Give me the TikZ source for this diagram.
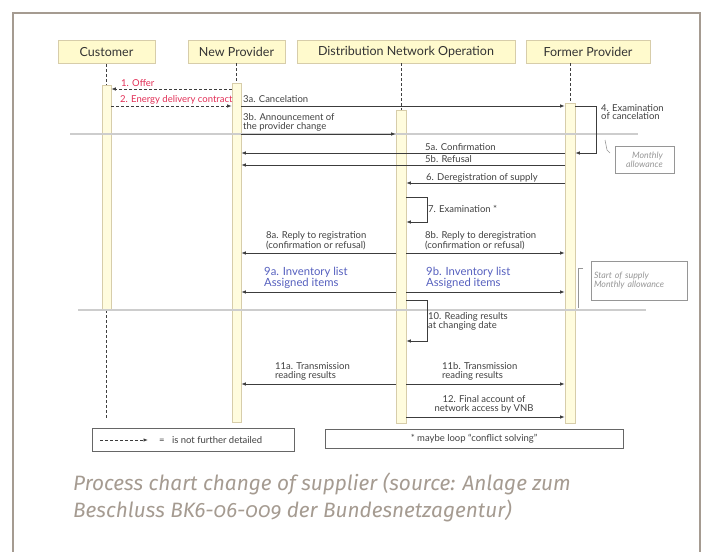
\documentclass[tikz,border=0pt]{standalone}
\usepackage{fontspec}
\setmainfont{Lato}
\newfontfamily\captionFont[Numbers=OldStyle]{Fira Sans}
\usetikzlibrary{arrows.meta}
\definecolor{frameGray}{RGB}{165,155,145}
\definecolor{headFill}{RGB}{255,250,205}
\definecolor{headLine}{RGB}{215,205,170}
\definecolor{barFill}{RGB}{255,252,222}
\definecolor{msgGray}{RGB}{60,60,60}
\definecolor{offerRed}{RGB}{225,45,85}
\definecolor{listBlue}{RGB}{85,95,190}
\definecolor{sepGray}{RGB}{205,205,205}
\definecolor{noteGray}{RGB}{150,150,150}
\newcommand{\msgFont}{\fontsize{9.5}{8.8}\selectfont}
\newcommand{\selfLoop}[3]{%%
  %% Arrow that leaves a bar and comes back to it.
  \draw[msgStyle] (#1.east |- #2) -- ++(21,0) |- (#1.east |- #3);
}
\begin{document}
\begin{tikzpicture}[x=1pt,y=-1pt,%%
  headStyle/.style={draw=headLine,fill=headFill,line width=0.8pt,minimum height=23pt,
    inner sep=0pt,font=\fontsize{12.5}{13}\selectfont,text=black!80},%%
  barStyle/.style={draw=headLine,fill=barFill,line width=0.6pt,minimum width=9pt,inner sep=0pt},%%
  lifeStyle/.style={densely dashed,black!75,line width=0.7pt},%%
  msgStyle/.style={msgGray,line width=0.8pt,-{Latex[length=4.5pt,width=3.5pt]}},%%
  dashStyle/.style={msgStyle,densely dashed},%%
  labelStyle/.style={inner sep=0pt,align=left,font=\msgFont,text=black!75},%%
  listStyle/.style={labelStyle,font=\fontsize{11.3}{10.8}\selectfont,text=listBlue},%%
  noteStyle/.style={draw=noteGray,line width=0.7pt,inner sep=0pt,align=left,
    font=\fontsize{8.8}{8.8}\selectfont\itshape,text=noteGray},%%
  sepStyle/.style={sepGray,line width=1.3pt}
]
\useasboundingbox (0,0) rectangle (706,551);
%%
%% Frame round the figure.
\draw[frameGray,line width=2pt] (13,560) -- (13,13) -- (700,13) -- (700,560);
%%
%% Heads of the four parties.
\node[headStyle,minimum width=97pt] (cust) at (106.5,52) {Customer};
\node[headStyle,minimum width=97pt] (newProv) at (236.5,51.5) {New Provider};
\node[headStyle,minimum width=218pt] (dno) at (406,51.5) {Distribution Network Operation};
\node[headStyle,minimum width=124pt] (formProv) at (588,51.5) {Former Provider};
%%
%% Activation bars.
\node[barStyle,minimum height=225pt] (custBar) at (106.5,197.5) {};
\node[barStyle,minimum height=339pt] (newBar) at (236.5,252.5) {};
\node[barStyle,minimum height=313pt,minimum width=10pt] (dnoBar) at (401,266.5) {};
\node[barStyle,minimum height=320pt,minimum width=10pt] (formBar) at (570,263) {};
%%
%% Life lines.
\draw[lifeStyle] (cust.south -| custBar.north) -- (custBar.north);
\draw[lifeStyle] (newProv.south -| newBar.north) -- (newBar.north);
\draw[lifeStyle] (dno.south -| dnoBar.north) -- (dnoBar.north);
\draw[lifeStyle] (formProv.south -| formBar.north) -- (formBar.north);
\coordinate (custEnd) at (106.5,418);
\draw[lifeStyle] (custBar.south) -- (custEnd);
%%
%% Heights of the messages.
\coordinate (yOffer) at (0,89);
\coordinate (yContract) at (0,106);
\coordinate (yAnnounce) at (0,134);
\coordinate (yConfirm) at (0,153);
\coordinate (yRefusal) at (0,165);
\coordinate (yDereg) at (0,183);
\coordinate (yExamTop) at (0,197);
\coordinate (yExamBot) at (0,222);
\coordinate (yReply) at (0,253);
\coordinate (yList) at (0,292);
\coordinate (yReadTop) at (0,300);
\coordinate (yReadBot) at (0,341);
\coordinate (yTrans) at (0,384);
\coordinate (yFinal) at (0,417);
%%
%% Separator lines.
\coordinate (sepOneL) at (70,134);
\coordinate (sepOneR) at (638,134);
\coordinate (sepTwoL) at (78,310);
\coordinate (sepTwoR) at (646,310);
\draw[sepStyle] (sepOneL) -- (sepOneR);
\draw[sepStyle] (sepTwoL) -- (sepTwoR);
%%
%% 1. and 2.
\draw[dashStyle] (newBar.west |- yOffer) -- (custBar.east |- yOffer);
\node[labelStyle,text=offerRed,anchor=base west] (lOffer) at (121,86) {1. Offer};
\draw[dashStyle] (custBar.east |- yContract) -- (newBar.west |- yContract);
\node[labelStyle,text=offerRed,anchor=base west] (lContract) at (120,102) {2. Energy delivery contract};
%%
%% 3a. and 3b.
\draw[msgStyle] (newBar.east |- yContract) -- (formBar.west |- yContract);
\node[labelStyle,anchor=base west] (lCancel) at (243,102) {3a. Cancelation};
\draw[msgStyle] (newBar.east |- yAnnounce) -- (dnoBar.west |- yAnnounce);
\node[labelStyle,anchor=south west] (lAnnounce) at (243,131.5) {3b. Announcement of\\the provider change};
%%
%% 4.
\selfLoop{formBar}{yContract}{yConfirm}
\node[labelStyle,anchor=north west] (lExamCancel) at (601,104) {4. Examination\\of cancelation};
%%
%% 5a., 5b. and 6.
\draw[msgStyle] (formBar.west |- yConfirm) -- (newBar.east |- yConfirm);
\node[labelStyle,anchor=base west] (lConfirm) at (425,150) {5a. Confirmation};
\draw[msgStyle] (formBar.west |- yRefusal) -- (newBar.east |- yRefusal);
\node[labelStyle,anchor=base west] (lRefusal) at (425,162.5) {5b. Refusal};
\draw[msgStyle] (formBar.west |- yDereg) -- (dnoBar.east |- yDereg);
\node[labelStyle,anchor=base west] (lDereg) at (426,180) {6. Deregistration of supply};
%%
%% Monthly allowance.
\node[noteStyle,minimum width=59pt,minimum height=27pt,align=right] (noteMonthly) at (644.5,159.5)
  {Monthly\\allowance\ };
\coordinate (noteTick) at (605,140);
\draw[noteGray,line width=0.6pt] (noteTick) -- ++(2,10) -- ++(3,3);
%%
%% 7.
\selfLoop{dnoBar}{yExamTop}{yExamBot}
\node[labelStyle,anchor=base west] (lExam) at (428,212) {7. Examination *};
%%
%% 8a. and 8b.
\draw[msgStyle] (dnoBar.west |- yReply) -- (newBar.east |- yReply);
\node[labelStyle,anchor=south west] (lReplyReg) at (266,250) {8a. Reply to registration\\(confirmation or refusal)};
\draw[msgStyle] (dnoBar.east |- yReply) -- (formBar.west |- yReply);
\node[labelStyle,anchor=south west] (lReplyDereg) at (425,250) {8b. Reply to deregistration\\(confirmation or refusal)};
%%
%% 9a. and 9b.
\draw[msgStyle] (dnoBar.west |- yList) -- (newBar.east |- yList);
\node[listStyle,anchor=south west] (lListA) at (264,289) {9a. Inventory list\\Assigned items};
\draw[msgStyle] (dnoBar.east |- yList) -- (formBar.west |- yList);
\node[listStyle,anchor=south west] (lListB) at (426,289) {9b. Inventory list\\Assigned items};
%%
%% Start of supply.
\node[noteStyle,minimum width=96pt,minimum height=39pt,text width=90pt] (noteStart) at (639,280.5)
  {Start of supply\\Monthly allowance};
\coordinate (brackTop) at (583,268);
\coordinate (brackBot) at (578,308);
\draw[noteGray,line width=0.7pt] (brackTop) -| (brackBot);
%%
%% 10.
\selfLoop{dnoBar}{yReadTop}{yReadBot}
\node[labelStyle,anchor=north west] (lRead) at (428,312.5) {10. Reading results\\at changing date};
%%
%% 11a., 11b. and 12.
\draw[msgStyle] (dnoBar.west |- yTrans) -- (newBar.east |- yTrans);
\node[labelStyle,anchor=south west] (lTransA) at (275,380) {11a. Transmission\\reading results};
\draw[msgStyle] (dnoBar.east |- yTrans) -- (formBar.west |- yTrans);
\node[labelStyle,anchor=south west] (lTransB) at (442,380) {11b. Transmission\\reading results};
\draw[msgStyle] (dnoBar.east |- yFinal) -- (formBar.west |- yFinal);
\node[labelStyle,anchor=south,align=center] (lFinal) at (484,413) {12. Final account of\\network access by VNB};
%%
%% Legends.
\node[draw=black!60,line width=0.7pt,minimum width=202pt,minimum height=23pt] (legDash) at (193,439.5) {};
\coordinate (legDashL) at (100,440);
\coordinate (legDashR) at (148,440);
\draw[dashStyle] (legDashL) -- (legDashR);
\node[labelStyle,anchor=west] (legText) at (159,440) {=\ \ \ is not further detailed};
\node[draw=black!60,line width=0.7pt,minimum width=298pt,minimum height=19pt,
  font=\msgFont,text=black!75] (legLoop) at (474,438.5) {* maybe loop “conflict solving”};
%%
%% Caption.
\node[anchor=base west,inner sep=0pt,align=left,text=frameGray,
  font=\captionFont\itshape\fontsize{20.8}{27}\selectfont] (caption) at (73,517)
  {Process chart change of supplier (source: Anlage zum\\Beschluss BK6-06-009 der Bundesnetzagentur)};
\end{tikzpicture}
\end{document}
